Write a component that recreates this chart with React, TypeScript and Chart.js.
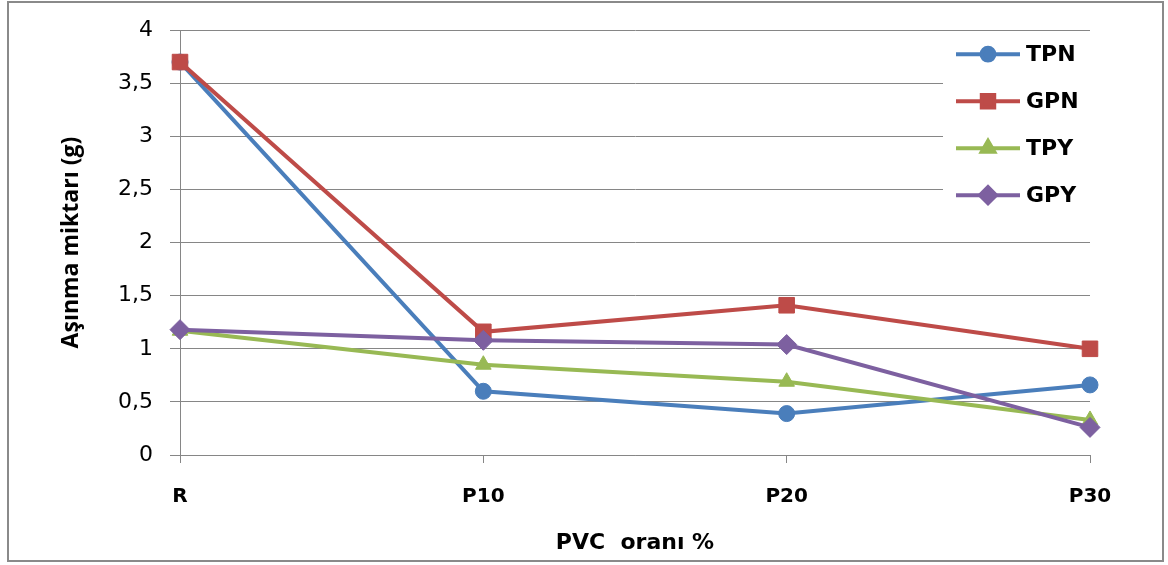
import React, { useEffect, useRef } from "react";
import { Chart, registerables } from "chart.js";
import { drawPoint } from "chart.js/helpers";

Chart.register(...registerables);

const categories = ["R", "P10", "P20", "P30"];
const seriesNames = ["TPN", "GPN", "TPY", "GPY"];
const tpnValues = [3.7, 0.6, 0.39, 0.66];
const gpnValues = [3.7, 1.16, 1.41, 1.0];
const tpyValues = [1.17, 0.85, 0.69, 0.33];
const gpyValues = [1.18, 1.08, 1.04, 0.26];
const seriesColors = ["#4A7EBB", "#BE4B48", "#98B954", "#7D60A0"];
const seriesMarkers = ["circle", "rect", "triangle", "rectRot"];
const markerRadii = [8, 11, 9, 10];
const yMin = 0;
const yMax = 4;
const yStep = 0.5;
const xTitle = "PVC  oranı %";
const yTitle = "Aşınma miktarı (g)";

const GRID = "#868686";

const frameAndLegend = {
  id: "frameAndLegend",
  beforeDraw(chart: any) {
    const ctx = chart.ctx;
    ctx.save();
    ctx.fillStyle = "#ffffff";
    ctx.fillRect(0, 0, chart.width, chart.height);
    ctx.strokeStyle = "#8a8a8a";
    ctx.lineWidth = 2;
    ctx.strokeRect(8, 2, 1155, 559);
    ctx.restore();
  },
  afterDatasetsDraw(chart: any) {
    const ctx = chart.ctx;
    const area = chart.chartArea;
    const boxLeft = area.right - 147;
    const boxTop = area.top + 7;
    ctx.save();
    ctx.fillStyle = "#ffffff";
    ctx.fillRect(boxLeft, boxTop, 150, 180);
    chart.data.datasets.forEach((ds: any, i: number) => {
      const cy = area.top + 24 + i * 47;
      const lx0 = boxLeft + 13;
      const lx1 = boxLeft + 77;
      ctx.strokeStyle = ds.borderColor;
      ctx.lineWidth = 4;
      ctx.beginPath();
      ctx.moveTo(lx0, cy);
      ctx.lineTo(lx1, cy);
      ctx.stroke();
      ctx.fillStyle = ds.pointBackgroundColor;
      ctx.strokeStyle = ds.pointBorderColor;
      drawPoint(
        ctx,
        { pointStyle: ds.pointStyle, radius: ds.pointRadius * 0.8, borderWidth: 1, rotation: 0 },
        (lx0 + lx1) / 2,
        cy
      );
      ctx.fillStyle = "#000000";
      ctx.font = 'bold 22px "DejaVu Sans"';
      ctx.textBaseline = "middle";
      ctx.textAlign = "left";
      ctx.fillText(ds.label, lx1 + 6, cy + 1);
    });
    ctx.restore();
  },
};

export default function App() {
  const canvasRef = useRef<HTMLCanvasElement | null>(null);

  useEffect(() => {
    if (!canvasRef.current) return;
    const allValues = [tpnValues, gpnValues, tpyValues, gpyValues];
    const chart = new Chart(canvasRef.current, {
      type: "line",
      data: {
        labels: categories,
        datasets: allValues.map((vals, i) => ({
          label: seriesNames[i],
          data: vals,
          borderColor: seriesColors[i],
          backgroundColor: seriesColors[i],
          pointBackgroundColor: seriesColors[i],
          pointBorderColor: seriesColors[i],
          pointStyle: seriesMarkers[i] as any,
          pointRadius: markerRadii[i],
          pointBorderWidth: 1,
          borderWidth: 4,
          tension: 0,
          clip: false as any,
          order: allValues.length - i,
        })),
      },
      options: {
        animation: false,
        responsive: false,
        maintainAspectRatio: false,
        layout: { padding: { left: 0, right: 78, top: 29, bottom: 0 } },
        plugins: {
          legend: { display: false },
          tooltip: { enabled: false },
        },
        scales: {
          x: {
            type: "category",
            offset: false,
            afterFit: (s: any) => {
              s.height = 110;
            },
            grid: {
              drawOnChartArea: false,
              drawTicks: true,
              tickLength: 8,
              color: GRID,
              lineWidth: 1,
            },
            border: { display: true, color: GRID, width: 1 },
            ticks: {
              color: "#000",
              padding: 22,
              maxRotation: 0,
              font: { family: '"DejaVu Sans"', size: 20, weight: "bold" },
            },
            title: {
              display: true,
              text: xTitle,
              color: "#000",
              font: { family: '"DejaVu Sans"', size: 22, weight: "bold" },
              padding: { top: 0, bottom: 9 },
            },
          },
          y: {
            min: yMin,
            max: yMax,
            afterFit: (s: any) => {
              s.width = 180;
            },
            grid: {
              color: GRID,
              lineWidth: 1,
              drawTicks: true,
              tickLength: 10,
            },
            border: { display: true, color: GRID, width: 1 },
            ticks: {
              stepSize: yStep,
              color: "#000",
              padding: 17,
              font: { family: '"DejaVu Sans"', size: 22 },
              callback: (v: any) => String(v).replace(".", ","),
            },
            title: {
              display: true,
              text: yTitle,
              color: "#000",
              font: { family: '"Open Sans"', size: 23, weight: "bold" },
              padding: { top: 58, bottom: 0 },
            },
          },
        },
      },
      plugins: [frameAndLegend],
    });
    return () => chart.destroy();
  }, []);

  return (
    <div style={{ position: "fixed", left: 0, top: 0, width: 1168, height: 565 }}>
      <canvas ref={canvasRef} width={1168} height={565} style={{ width: 1168, height: 565 }} />
    </div>
  );
}
